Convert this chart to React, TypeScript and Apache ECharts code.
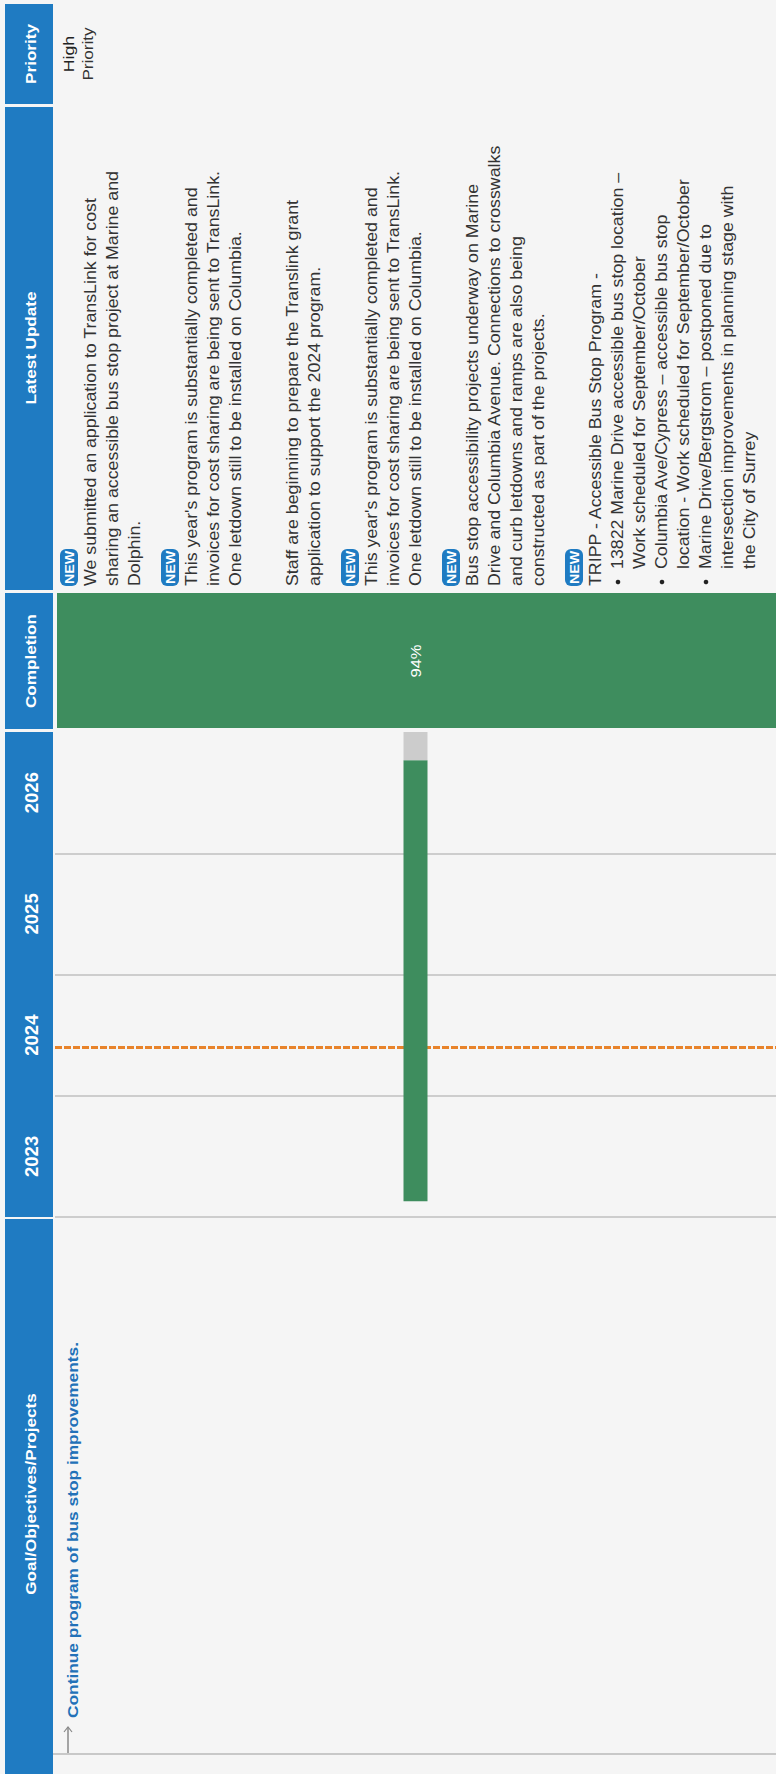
import React, { useEffect, useRef } from 'react';
import * as echarts from 'echarts';

// ---------- data ----------
const headerLabels = ['Priority', 'Latest Update', 'Completion', 'Goal/Objectives/Projects'];
const priorityText = ['High', 'Priority'];
const years = ['2023', '2024', '2025', '2026'];
const axisMin = 2023;
const axisMax = 2027;
const projectStart = 2023.13;
const projectEnd = 2027.0;
const completionPct = 94;
const todayMark = 2024.4;
const goalText = 'Continue program of bus stop improvements.';

const updateParagraphs = [
  { badge: true, lines: ['We submitted an application to TransLink for cost', 'sharing an accessible bus stop project at Marine and', 'Dolphin.'] },
  { badge: true, lines: ["This year's program is substantially completed and", 'invoices for cost sharing are being sent to TransLink.', 'One letdown still to be installed on Columbia.'] },
  { badge: false, lines: ['Staff are beginning to prepare the Translink grant', 'application to support the 2024 program.'] },
  { badge: true, lines: ["This year's program is substantially completed and", 'invoices for cost sharing are being sent to TransLink.', 'One letdown still to be installed on Columbia.'] },
  { badge: true, lines: ['Bus stop accessibility projects underway on Marine', 'Drive and Columbia Avenue. Connections to crosswalks', 'and curb letdowns and ramps are also being', 'constructed as part of the projects.'] },
  { badge: true, lines: ['TRIPP - Accessible Bus Stop Program -'] },
];
const trippBullets = [
  ['13822 Marine Drive accessible bus stop location \u2013', 'Work scheduled for September/October'],
  ['Columbia Ave/Cypress \u2013 accessible bus stop', 'location - Work scheduled for September/October'],
  ['Marine Drive/Bergstrom \u2013 postponed due to', 'intersection improvements in planning stage with', 'the City of Surrey'],
];

// ---------- layout / style ----------
const W = 776;
const H = 1774;
const FONT = '"Liberation Sans", Arial, sans-serif';
const BLUE = '#1f7bc2';
const GREEN = '#3e8d5e';
const STRETCH = 1.14; // text in the reference is slightly elongated along its reading direction
const stripX0 = 5;
const stripX1 = 53;
const cells = {
  priority: [4, 104],
  update: [107, 590],
  completion: [593, 729],
  years: [732, 1217],
  goal: [1219, 1774],
};

const centered = { align: 'center', verticalAlign: 'middle', textAlign: 'center', textVerticalAlign: 'middle' };
const leftMid = { align: 'left', verticalAlign: 'middle', textAlign: 'left', textVerticalAlign: 'middle' };

function vText(x: number, y: number, style: any, z?: number) {
  return { type: 'text', x, y, rotation: Math.PI / 2, scaleX: STRETCH, scaleY: 1, style, z: z || 1 };
}

function buildGraphics() {
  const els: any[] = [];
  const headerRanges = [cells.priority, cells.update, cells.completion, cells.years, cells.goal];
  headerRanges.forEach((r) => {
    els.push({
      type: 'rect',
      shape: { x: stripX0, y: r[0], width: stripX1 - stripX0, height: r[1] - r[0] },
      style: { fill: BLUE },
      z: 0,
    });
  });
  const headerCenters = [54, 348, 661, 1494];
  headerLabels.forEach((lab, i) => {
    els.push(vText(30, headerCenters[i], { text: lab, fill: '#ffffff', fontSize: 15, fontWeight: 'bold', fontFamily: FONT, ...centered }));
  });

  // priority cell
  els.push(vText(69, 54, { text: priorityText[0], fill: '#222', fontSize: 15.5, fontFamily: FONT, ...centered }));
  els.push(vText(87, 54, { text: priorityText[1], fill: '#333', fontSize: 15, fontFamily: FONT, ...centered }));

  // latest update text
  const startY = 586;
  const pitch = 22;
  const paraGap = 35;
  let cx = 69;
  const textStyle = (t: string) => ({ text: t, fill: '#333', fontSize: 15.6, fontFamily: FONT, ...leftMid });
  updateParagraphs.forEach((p, pi) => {
    if (p.badge) {
      els.push({
        type: 'rect',
        shape: { x: cx - 9, y: startY - 37, width: 18, height: 37, r: 6 },
        style: { fill: BLUE },
      });
      els.push(vText(cx + 0.5, startY - 18.5, { text: 'NEW', fill: '#fff', fontSize: 12.5, fontWeight: 'bold', fontFamily: FONT, ...centered }, 2));
    }
    let lx = cx + pitch;
    p.lines.forEach((ln) => {
      els.push(vText(lx, startY, textStyle(ln)));
      lx += pitch;
    });
    if (pi === updateParagraphs.length - 1) {
      trippBullets.forEach((b) => {
        els.push({ type: 'circle', shape: { cx: lx, cy: startY - 4, r: 2.3 }, style: { fill: '#222' } });
        b.forEach((ln) => {
          els.push(vText(lx, startY - 17, textStyle(ln)));
          lx += pitch;
        });
      });
    }
    cx = lx - pitch + paraGap;
  });

  // completion cell
  els.push({
    type: 'rect',
    shape: { x: 57, y: cells.completion[0], width: W - 57, height: cells.completion[1] - 1 - cells.completion[0] },
    style: { fill: GREEN },
  });
  els.push(vText(416, (cells.completion[0] + cells.completion[1]) / 2, { text: completionPct + '%', fill: '#fff', fontSize: 14.5, fontFamily: FONT, ...centered }));

  // goal cell
  els.push(vText(72, 1718, { text: goalText, fill: '#2271b8', fontSize: 15.2, fontWeight: 'bold', fontFamily: FONT, ...leftMid }));
  els.push({ type: 'line', shape: { x1: 68, y1: 1754, x2: 68, y2: 1727 }, style: { stroke: '#888', lineWidth: 1.5 } });
  els.push({ type: 'polyline', shape: { points: [[64, 1732], [68, 1727], [72, 1732]] }, style: { stroke: '#888', lineWidth: 1.2, fill: 'none' } });
  els.push({ type: 'line', shape: { x1: stripX1, y1: 1754, x2: W, y2: 1754 }, style: { stroke: '#c8c8c8', lineWidth: 2 } });

  return els;
}

export default function App() {
  const ref = useRef<HTMLDivElement>(null);
  useEffect(() => {
    document.body.style.margin = '0';
    const chart = echarts.init(ref.current as HTMLDivElement, null, { renderer: 'svg' });
    const span = projectEnd - projectStart;
    const done = (span * completionPct) / 100;
    const remain = span - done;
    const option: any = {
      animation: false,
      backgroundColor: '#f5f5f5',
      grid: {
        left: 55,
        right: 0,
        top: cells.years[0],
        height: cells.years[1] - cells.years[0],
        containLabel: false,
      },
      xAxis: { type: 'category', data: ['Bus stop program'], show: false },
      yAxis: [
        {
          type: 'value',
          min: axisMin,
          max: axisMax,
          interval: 1,
          axisLabel: { show: false },
          axisLine: { show: false },
          axisTick: { show: false },
          splitLine: { show: true, showMaxLine: false, lineStyle: { color: '#cdcdcd', width: 2 } },
        },
        {
          type: 'category',
          data: years,
          position: 'left',
          axisLine: { show: false },
          axisTick: { show: false },
          splitLine: { show: false },
          axisLabel: { rotate: 90, color: '#ffffff', fontWeight: 'bold', fontSize: 18.5, fontFamily: FONT, margin: 14 },
        },
      ],
      graphic: { elements: buildGraphics() },
      series: [
        {
          type: 'bar',
          stack: 'gantt',
          data: [projectStart],
          barWidth: 24,
          itemStyle: { color: 'rgba(0,0,0,0)' },
          silent: true,
          z: 1,
          markLine: {
            silent: true,
            symbol: ['none', 'none'],
            label: { show: false },
            lineStyle: { color: '#e8832a', type: [7, 2], width: 3 },
            data: [{ yAxis: todayMark }],
          },
        },
        { type: 'bar', stack: 'gantt', data: [done], barWidth: 24, itemStyle: { color: GREEN }, z: 5 },
        { type: 'bar', stack: 'gantt', data: [remain], barWidth: 24, itemStyle: { color: '#cccccc' }, z: 5 },
      ],
    };
    chart.setOption(option);
    return () => chart.dispose();
  }, []);
  return <div ref={ref} style={{ width: W, height: H }} />;
}
